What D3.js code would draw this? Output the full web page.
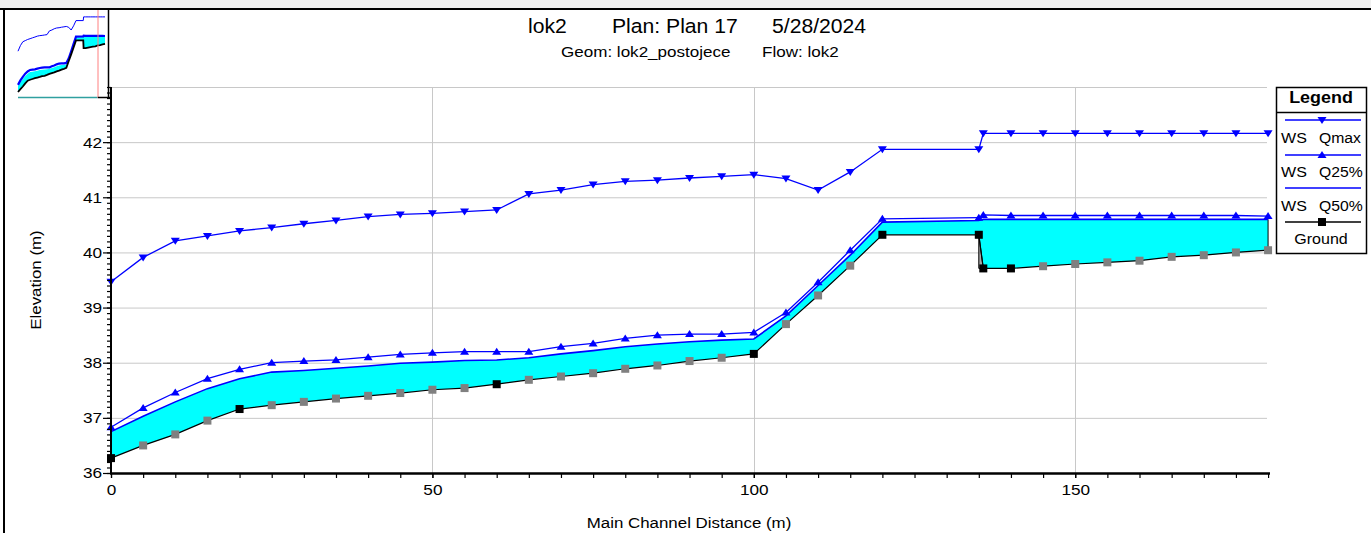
<!DOCTYPE html>
<html>
<head>
<meta charset="utf-8">
<script src="https://cdn.jsdelivr.net/npm/d3@7"></script>
<style>
  html, body { margin: 0; padding: 0; background: #fff; }
  svg { display: block; font-family: "Liberation Sans", Arial, sans-serif; }
</style>
</head>
<body>
<svg id="chart" width="1371" height="533"></svg>
<script>
// River stations along the main channel (m)
const stations = [0, 5, 10, 15, 20, 25, 30, 35, 40, 45, 50, 55, 60, 65, 70, 75, 80, 85, 90, 95,
  100, 105, 110, 115, 120, 135, 135.7, 140, 145, 150, 155, 160, 165, 170, 175, 180];

// Channel invert (m)
const ground = [36.27, 36.50, 36.70, 36.95, 37.16, 37.23, 37.29, 37.35, 37.40, 37.45, 37.51, 37.54,
  37.61, 37.69, 37.75, 37.81, 37.89, 37.95, 38.03, 38.09, 38.16, 38.70, 39.22, 39.76, 40.32,
  40.32, 39.71, 39.71, 39.75, 39.79, 39.82, 39.85, 39.92, 39.95, 40.00, 40.04];

// Water surface profiles (m)
const wsQmax = [39.47, 39.91, 40.21, 40.30, 40.39, 40.45, 40.52, 40.58, 40.65, 40.69, 40.71, 40.74,
  40.77, 41.06, 41.13, 41.23, 41.29, 41.31, 41.35, 41.38, 41.41, 41.34, 41.13, 41.46, 41.87,
  41.87, 42.16, 42.16, 42.16, 42.16, 42.16, 42.16, 42.16, 42.16, 42.16, 42.16];
const wsQ25 = [36.83, 37.18, 37.46, 37.71, 37.88, 38.00, 38.03, 38.05, 38.10, 38.15, 38.18, 38.20,
  38.20, 38.20, 38.29, 38.35, 38.44, 38.50, 38.52, 38.52, 38.55, 38.91, 39.46, 40.04, 40.61,
  40.63, 40.68, 40.67, 40.67, 40.67, 40.67, 40.67, 40.67, 40.67, 40.67, 40.66];
const wsQ50 = [36.75, 37.03, 37.29, 37.53, 37.71, 37.83, 37.86, 37.90, 37.94, 37.99, 38.01, 38.04,
  38.05, 38.09, 38.16, 38.22, 38.29, 38.34, 38.38, 38.41, 38.43, 38.85, 39.40, 39.95, 40.55,
  40.58, 40.60, 40.60, 40.60, 40.60, 40.60, 40.60, 40.60, 40.60, 40.60, 40.60];

// Surveyed cross sections (others are interpolated)
const surveyed = [0, 20, 60, 100, 120, 135, 135.7, 140];

// Axis ticks
const xTicks = [0, 50, 100, 150];
const yTicks = [36, 37, 38, 39, 40, 41, 42];
const yGrid = [37, 38, 39, 40, 41, 42, 43];

// Legend entries
const legendNames = ["Qmax", "Q25%", "Q50%", "Ground"];

const rows = stations.map((s, i) => ({
  s, g: ground[i], qmax: wsQmax[i], q25: wsQ25[i], q50: wsQ50[i],
  surveyed: surveyed.includes(s)
}));

const svg = d3.select("#chart");
const FONT_SX = 1.11;
const BLUE = "#0000ff";

// Text with a slight horizontal stretch
function label(parent, x, y, text, size, anchor, sx, extra) {
  const t = parent.append("text")
    .attr("transform", `translate(${x},${y}) scale(${sx || FONT_SX},1)`)
    .attr("font-size", size)
    .attr("text-anchor", anchor || "start")
    .attr("fill", "#000")
    .text(text);
  if (extra) extra(t);
  return t;
}

// Window frame
svg.append("rect").attr("x", 0).attr("y", 0).attr("width", 1371).attr("height", 8).attr("fill", "#f0f0f0");
svg.append("line").attr("x1", 0).attr("x2", 1371).attr("y1", 9).attr("y2", 9).attr("stroke", "#000").attr("stroke-width", 2);
svg.append("line").attr("x1", 4).attr("x2", 4).attr("y1", 9).attr("y2", 533).attr("stroke", "#000").attr("stroke-width", 2);

// Scales
const x = d3.scaleLinear().domain([0, 180.3]).range([111, 1270]);
const y = d3.scaleLinear().domain([36, 43]).range([473, 87]);

// Grid
const grid = svg.append("g").attr("stroke", "#c8c8c8").attr("stroke-width", 1);
grid.selectAll("line.h").data(yGrid).join("line").attr("class", "h")
  .attr("x1", x(0)).attr("x2", 1267).attr("y1", d => y(d) + 0.5).attr("y2", d => y(d) + 0.5);
grid.selectAll("line.v").data(xTicks.filter(d => d > 0)).join("line").attr("class", "v")
  .attr("x1", d => Math.round(x(d)) + 0.5).attr("x2", d => Math.round(x(d)) + 0.5)
  .attr("y1", y(43)).attr("y2", y(36));

// Water between ground and Q50% surface
const water = d3.area().x(d => x(d.s)).y0(d => y(d.g)).y1(d => y(d.q50));
svg.append("path").datum(rows).attr("d", water).attr("fill", "#00ffff");
const last = rows[rows.length - 1];
svg.append("line").attr("x1", x(last.s)).attr("x2", x(last.s))
  .attr("y1", y(last.g)).attr("y2", y(last.q50)).attr("stroke", "#000").attr("stroke-width", 1);

// Inline structure at the drop
const iA = stations.indexOf(135), iB = stations.indexOf(135.7);
const structPts = [[stations[iA], ground[iA]], [stations[iA], ground[iB]], [stations[iB], ground[iB]]];
svg.append("path")
  .attr("d", d3.line().x(d => x(d[0])).y(d => y(d[1]))(structPts) + "Z")
  .attr("fill", "#a8a8a8").attr("stroke", "#000").attr("stroke-width", 1);

// Profiles
const lineOf = key => d3.line().x(d => x(d.s)).y(d => y(d[key]));
svg.append("path").datum(rows).attr("d", lineOf("q50")).attr("fill", "none").attr("stroke", BLUE).attr("stroke-width", 1.6);
svg.append("path").datum(rows).attr("d", lineOf("q25")).attr("fill", "none").attr("stroke", BLUE).attr("stroke-width", 1.3);
svg.append("path").datum(rows).attr("d", lineOf("qmax")).attr("fill", "none").attr("stroke", BLUE).attr("stroke-width", 1.3);
svg.append("path").datum(rows).attr("d", lineOf("g")).attr("fill", "none").attr("stroke", "#000").attr("stroke-width", 1.2);

// Markers
const triDown = "M-4.5,-3L4.5,-3L0,4Z";
const triUp = "M-4.5,3L4.5,3L0,-4Z";
svg.append("g").selectAll("path").data(rows).join("path")
  .attr("transform", d => `translate(${x(d.s)},${y(d.qmax)})`).attr("d", triDown).attr("fill", BLUE);
svg.append("g").selectAll("path").data(rows).join("path")
  .attr("transform", d => `translate(${x(d.s)},${y(d.q25)})`).attr("d", triUp).attr("fill", BLUE);
svg.append("g").selectAll("rect").data(rows).join("rect")
  .attr("x", d => x(d.s) - 4).attr("y", d => y(d.g) - 4).attr("width", 8).attr("height", 8)
  .attr("fill", d => d.surveyed ? "#000" : "#808080");

// Y axis
const yAxis = svg.append("g").attr("transform", `translate(${x(0)},0)`);
yAxis.append("g").call(d3.axisLeft(y).tickValues(d3.range(36, 43.001, 0.1)).tickSize(4).tickFormat(""))
  .call(g => g.select(".domain").remove());
yAxis.append("g").call(d3.axisLeft(y).tickValues(yTicks).tickSize(8).tickPadding(0).tickFormat(d3.format("d")))
  .call(g => g.select(".domain").remove())
  .call(g => g.selectAll("text").attr("font-size", 15.5).attr("fill", "#000")
    .attr("font-family", "Liberation Sans, Arial, sans-serif")
    .attr("transform", `scale(${FONT_SX},1)`));
yAxis.selectAll("line").attr("stroke", "#000").attr("stroke-width", 1.2);
yAxis.append("line").attr("x1", 0).attr("x2", 0).attr("y1", y(43)).attr("y2", y(36) + 1)
  .attr("stroke", "#000").attr("stroke-width", 2);

// X axis
const xAxis = svg.append("g").attr("transform", `translate(0,${y(36)})`);
xAxis.append("g").call(d3.axisBottom(x).tickValues(d3.range(0, 180.001, 5)).tickSize(5).tickFormat(""))
  .call(g => g.select(".domain").remove());
xAxis.append("g").call(d3.axisBottom(x).tickValues(xTicks).tickSize(5).tickPadding(6).tickFormat(d3.format("d")))
  .call(g => g.select(".domain").remove())
  .call(g => g.selectAll("text").attr("font-size", 15.5).attr("fill", "#000")
    .attr("font-family", "Liberation Sans, Arial, sans-serif")
    .attr("transform", `scale(${FONT_SX},1)`));
xAxis.selectAll("line").attr("stroke", "#000").attr("stroke-width", 1.2);
xAxis.append("line").attr("x1", x(0) - 1).attr("x2", 1270).attr("y1", 0.5).attr("y2", 0.5)
  .attr("stroke", "#000").attr("stroke-width", 2.5);

// Axis titles
label(svg, 689, 528, "Main Channel Distance (m)", 15.5, "middle", 1.09);
svg.append("text")
  .attr("transform", `translate(41,280) rotate(-90) scale(1.09,1)`)
  .attr("font-size", 15.5).attr("text-anchor", "middle").text("Elevation (m)");

// Titles
label(svg, 528, 33, "lok2", 19.5, "start", 1.085);
label(svg, 612, 33, "Plan: Plan 17", 19.5, "start", 1.085);
label(svg, 772, 33, "5/28/2024", 19.5, "start", 1.085);
label(svg, 561, 57, "Geom: lok2_postojece", 15.5, "start", 1.1);
label(svg, 762, 57, "Flow: lok2", 15.5, "start", 1.1);

// Legend
const lg = svg.append("g");
lg.append("rect").attr("x", 1276.5).attr("y", 87.5).attr("width", 90).attr("height", 166)
  .attr("fill", "#fff").attr("stroke", "#000").attr("stroke-width", 1.5);
lg.append("line").attr("x1", 1276.5).attr("x2", 1366.5).attr("y1", 112.5).attr("y2", 112.5)
  .attr("stroke", "#000").attr("stroke-width", 1.5);
label(lg, 1321, 103, "Legend", 16, "middle", 1.12, t => t.attr("font-weight", "bold"));
const lineYs = [120, 155, 188, 222];
const textYs = [143, 177, 211, 244];
legendNames.forEach((name, i) => {
  const ly = lineYs[i];
  const isGround = name === "Ground";
  lg.append("line").attr("x1", 1285).attr("x2", 1361).attr("y1", ly).attr("y2", ly)
    .attr("stroke", isGround ? "#000" : BLUE).attr("stroke-width", 1.5);
  if (i === 0) lg.append("path").attr("transform", `translate(1322,${ly})`).attr("d", triDown).attr("fill", BLUE);
  if (i === 1) lg.append("path").attr("transform", `translate(1322,${ly})`).attr("d", triUp).attr("fill", BLUE);
  if (isGround) {
    lg.append("rect").attr("x", 1318).attr("y", ly - 4).attr("width", 8).attr("height", 8).attr("fill", "#000");
    label(lg, 1321, textYs[i], name, 15, "middle", 1.07);
  } else {
    label(lg, 1281, textYs[i], "WS", 15, "start", 1.07);
    label(lg, 1319, textYs[i], name, 15, "start", 1.05);
  }
});

// Overview thumbnail
const tx = d3.scaleLinear().domain([0, 180]).range([18, 105]);
const ty = d3.scaleLinear().domain([35.8, 42.7]).range([98, 10]);
const th = svg.append("g");
th.append("path").datum(rows)
  .attr("d", d3.area().x(d => tx(d.s)).y0(d => ty(d.g)).y1(d => ty(d.q50)))
  .attr("fill", "#00ffff");
th.append("path").datum(rows).attr("d", d3.line().x(d => tx(d.s)).y(d => ty(d.q25)))
  .attr("fill", "none").attr("stroke", BLUE).attr("stroke-width", 2.2);
th.append("path").datum(rows).attr("d", d3.line().x(d => tx(d.s)).y(d => ty(d.g)))
  .attr("fill", "none").attr("stroke", "#000").attr("stroke-width", 1.8);
th.append("path").datum(rows).attr("d", d3.line().x(d => tx(d.s)).y(d => ty(d.qmax)))
  .attr("fill", "none").attr("stroke", BLUE).attr("stroke-width", 1);
th.append("line").attr("x1", 18).attr("x2", 98).attr("y1", 97.5).attr("y2", 97.5)
  .attr("stroke", "#30a0a0").attr("stroke-width", 1.5);
th.append("line").attr("x1", 98).attr("x2", 98).attr("y1", 10).attr("y2", 98)
  .attr("stroke", "#ff8080").attr("stroke-width", 1);
th.append("line").attr("x1", 98).attr("x2", 111).attr("y1", 97.5).attr("y2", 97.5)
  .attr("stroke", "#000").attr("stroke-width", 1.5);
th.append("line").attr("x1", 108.5).attr("x2", 108.5).attr("y1", 10).attr("y2", 98)
  .attr("stroke", "#000").attr("stroke-width", 1.5);
</script>
</body>
</html>
